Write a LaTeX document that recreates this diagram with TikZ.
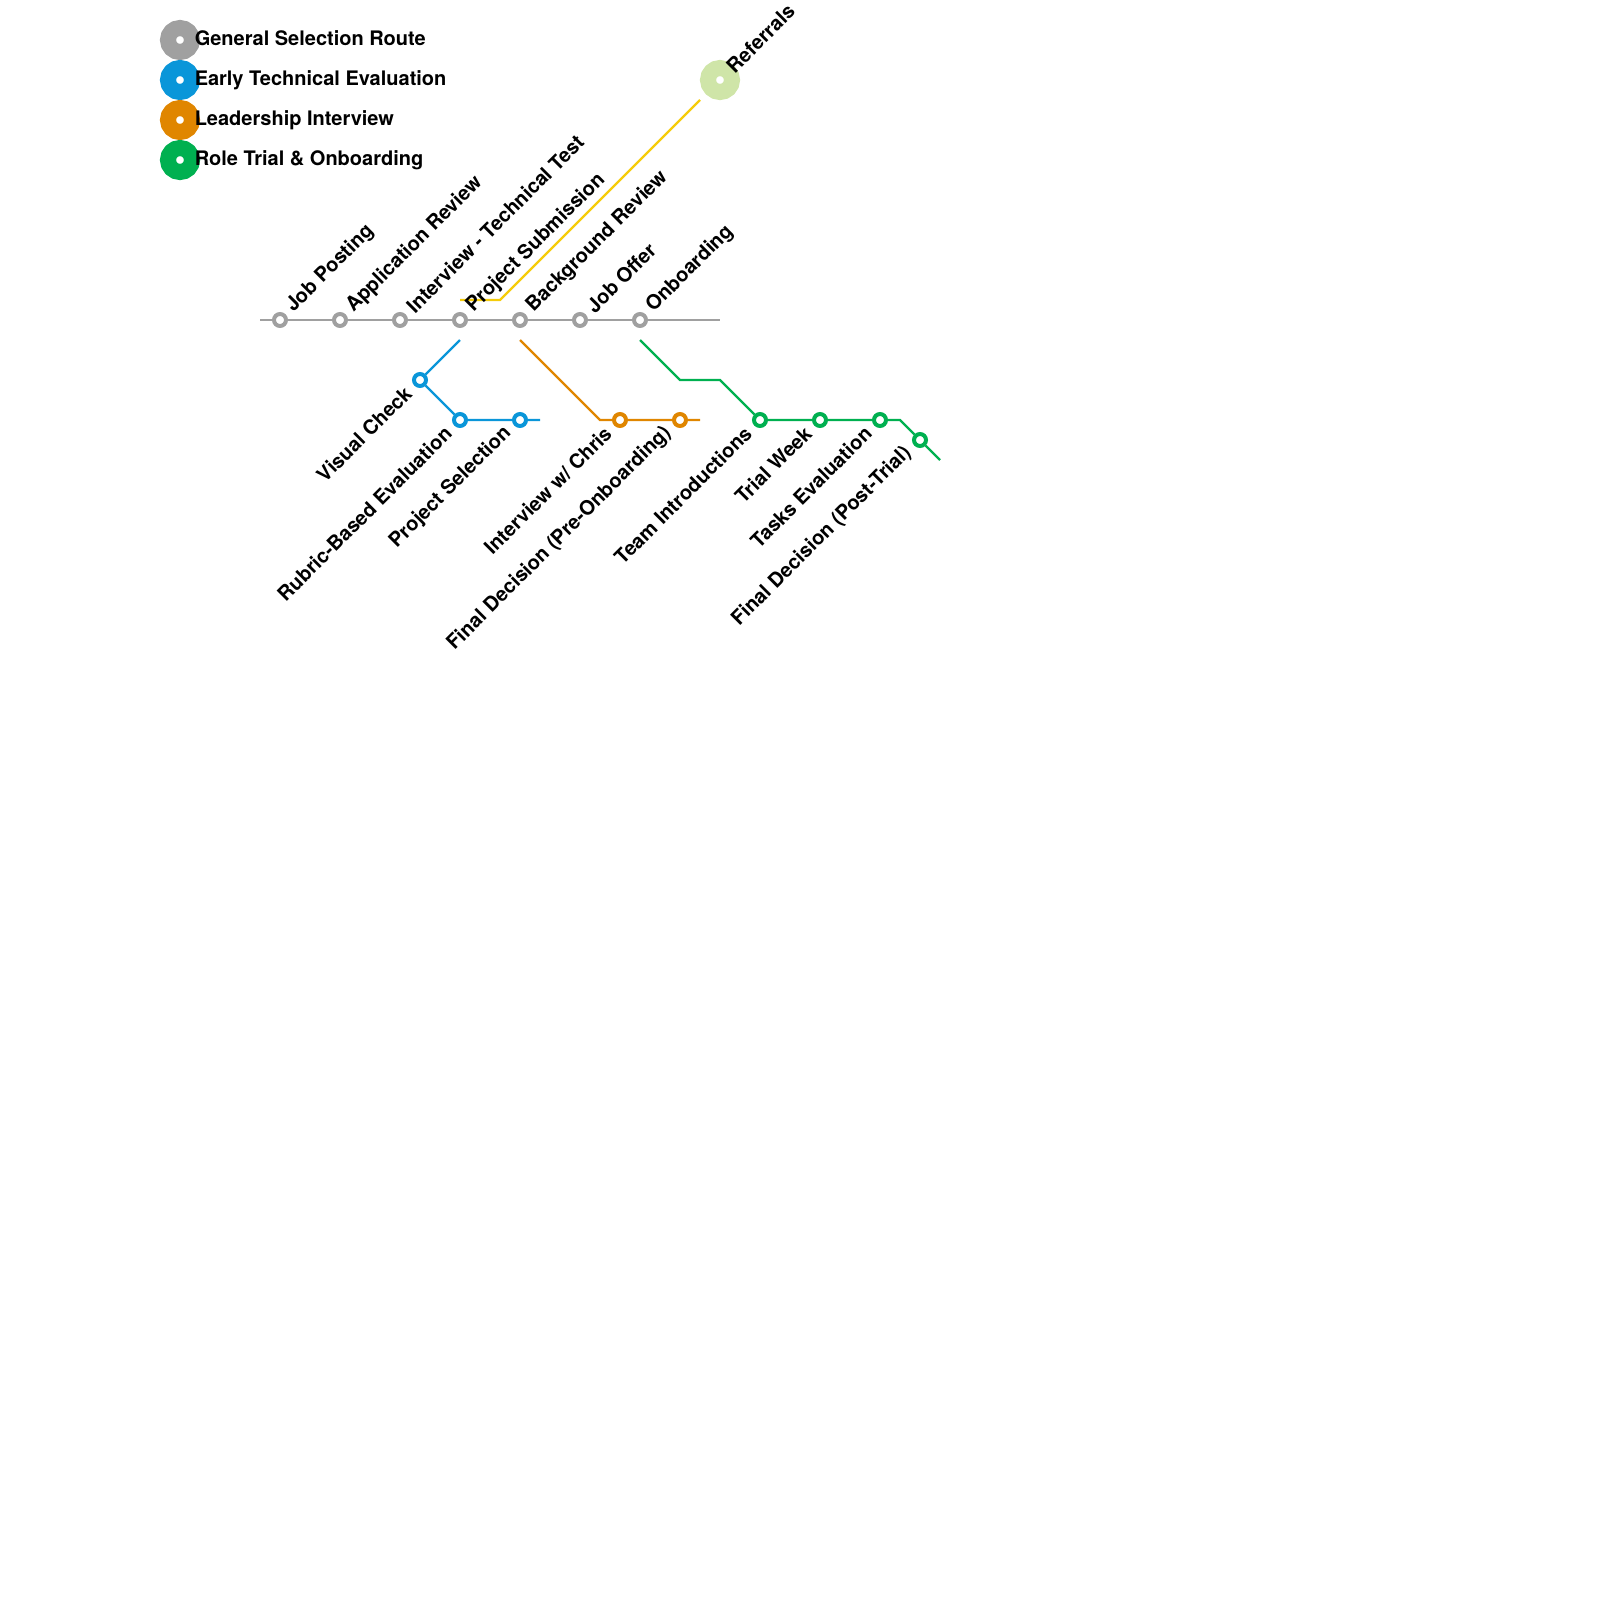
\documentclass[tikz,border=0pt]{standalone}
\usepackage{fontspec}
\usepackage{tikz}
\setmainfont{TeX Gyre Heros}
\definecolor{routegray}{HTML}{A0A0A0}
\definecolor{techblue}{HTML}{0A96D9}
\definecolor{leadorange}{HTML}{E08600}
\definecolor{trialgreen}{HTML}{00B050}
\definecolor{refyellow}{HTML}{F5CC0A}
\definecolor{reflime}{HTML}{CFE5A8}

\begin{document}
\begin{tikzpicture}[x=0.75pt,y=-0.75pt,node distance=45pt,
stop/.style={circle,draw=#1,fill=white,line width=3pt,minimum size=9pt,inner sep=0pt},
hub/.style={circle,draw=#1,fill=white,line width=12pt,minimum size=18pt,inner sep=0pt},
route/.style={draw=#1,line width=1.8pt,line cap=square},
txt/.style={inner sep=0pt,font=\bfseries\fontsize{15}{18}\selectfont},
uptxt/.style={txt,rotate=45,anchor=west,xshift=10.8pt,yshift=0.5pt},
downtxt/.style={txt,rotate=45,anchor=east,xshift=-11.55pt,yshift=1.05pt}]
\useasboundingbox (0,0) rectangle (1600,1600);
% legend
\node[hub=routegray] (keygeneral) at (180,40) {};
\node[hub=techblue] (keytech) at (180,80) {};
\node[hub=leadorange] (keylead) at (180,120) {};
\node[hub=trialgreen] (keytrial) at (180,160) {};
\node[txt,anchor=base west] (keygeneraltxt) at (194.5,45) {General Selection Route};
\node[txt,anchor=base west] (keytechtxt) at (194.5,85) {Early Technical Evaluation};
\node[txt,anchor=base west] (keyleadtxt) at (194.5,125) {Leadership Interview};
\node[txt,anchor=base west] (keytrialtxt) at (194.5,165) {Role Trial \& Onboarding};
% main line
\node[stop=routegray] (posting) at (280,320) {};
\node[stop=routegray] (appreview) [right of=posting] {};
\node[stop=routegray] (techtest) [right of=appreview] {};
\node[stop=routegray] (submission) [right of=techtest] {};
\node[stop=routegray] (background) [right of=submission] {};
\node[stop=routegray] (joboffer) [right of=background] {};
\node[stop=routegray] (onboarding) [right of=joboffer] {};
\node[hub=reflime] (referrals) at (720,80) {};
% blue branch
\node[stop=techblue] (visual) at (420,380) {};
\node[stop=techblue] (rubric) at (460,420) {};
\node[stop=techblue] (selection) [right of=rubric] {};
% orange branch
\node[stop=leadorange] (chris) at (620,420) {};
\node[stop=leadorange] (predecision) [right of=chris] {};
% green branch
\node[stop=trialgreen] (team) at (760,420) {};
\node[stop=trialgreen] (trialweek) [right of=team] {};
\node[stop=trialgreen] (tasks) [right of=trialweek] {};
\node[stop=trialgreen] (postdecision) at (920,440) {};
% free ends and bends
\coordinate (mainstart) at (260,320);
\coordinate (mainend) at (720,320);
\coordinate (yellowstart) at (460,300);
\coordinate (yellowbend) at (500,300);
\coordinate (yellowend) at (700,100);
\coordinate (bluestart) at (460,340);
\coordinate (blueend) at (540,420);
\coordinate (orangestart) at (520,340);
\coordinate (orangebend) at (600,420);
\coordinate (orangeend) at (700,420);
\coordinate (greenstart) at (640,340);
\coordinate (greenbenda) at (680,380);
\coordinate (greenbendb) at (720,380);
\coordinate (greenbendc) at (900,420);
\coordinate (greenend) at (940,460);
\draw[route=routegray] (mainstart) -- (posting) -- (appreview) -- (techtest) -- (submission) -- (background) -- (joboffer) -- (onboarding) -- (mainend);
\draw[route=refyellow] (yellowstart) -- (yellowbend) -- (yellowend);
\draw[route=techblue] (bluestart) -- (visual) -- (rubric) -- (selection) -- (blueend);
\draw[route=leadorange] (orangestart) -- (orangebend) -- (chris) -- (predecision) -- (orangeend);
\draw[route=trialgreen] (greenstart) -- (greenbenda) -- (greenbendb) -- (team) -- (trialweek) -- (tasks) -- (greenbendc) -- (postdecision) -- (greenend);
% labels
\node[uptxt] (postingtxt) at (posting) {Job Posting};
\node[uptxt] (appreviewtxt) at (appreview) {Application Review};
\node[uptxt] (techtesttxt) at (techtest) {Interview - Technical Test};
\node[uptxt] (submissiontxt) at (submission) {Project Submission};
\node[uptxt] (backgroundtxt) at (background) {Background Review};
\node[uptxt] (joboffertxt) at (joboffer) {Job Offer};
\node[uptxt] (onboardingtxt) at (onboarding) {Onboarding};
\node[uptxt] (referralstxt) at (referrals) {Referrals};
\node[downtxt] (visualtxt) at (visual) {Visual Check};
\node[downtxt] (rubrictxt) at (rubric) {Rubric-Based Evaluation};
\node[downtxt] (selectiontxt) at (selection) {Project Selection};
\node[downtxt] (christxt) at (chris) {Interview w/ Chris};
\node[downtxt] (predecisiontxt) at (predecision) {Final Decision (Pre-Onboarding)};
\node[downtxt] (teamtxt) at (team) {Team Introductions};
\node[downtxt] (trialweektxt) at (trialweek) {Trial Week};
\node[downtxt] (taskstxt) at (tasks) {Tasks Evaluation};
\node[downtxt] (postdecisiontxt) at (postdecision) {Final Decision (Post-Trial)};
\end{tikzpicture}
\end{document}
